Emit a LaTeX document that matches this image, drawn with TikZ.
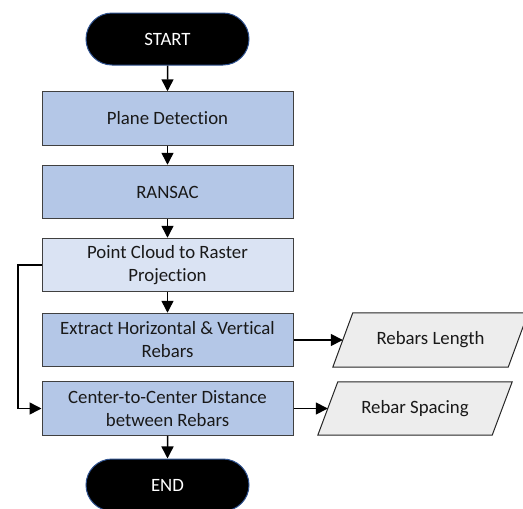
\documentclass[tikz,border=0pt]{standalone}
\usepackage{fontspec}
\setmainfont{Carlito}[Ligatures={NoCommon,NoRare,NoContextual}]
\usetikzlibrary{arrows.meta,shapes.misc,backgrounds}
\definecolor{boxblue}{HTML}{B4C7E7}
\definecolor{boxlight}{HTML}{DAE3F3}
\definecolor{iogray}{HTML}{EDEDED}
\definecolor{termborder}{HTML}{2F528F}
\definecolor{edgegray}{HTML}{404040}
\tikzset{
  every node/.style={font=\fontsize{18.8}{23}\selectfont, align=center},
  term/.style={rounded rectangle, fill=black, draw=termborder, line width=1pt,
    text=white, minimum width=163pt, minimum height=52pt, inner sep=0pt},
  procbox/.style={rectangle, fill=boxblue, draw=edgegray, line width=1pt,
    minimum width=251pt, minimum height=53.5pt, inner sep=0pt, text=black!90},
  lightbox/.style={procbox, fill=boxlight},
  iotext/.style={rectangle, minimum height=54pt, inner sep=0pt, text=black!90},
  ioshape/.style={fill=iogray, draw=black!85, line width=1pt},
  conn/.style={-{Triangle[length=12pt,width=12pt]}, line width=1.5pt, black}
}
\begin{document}
\begin{tikzpicture}[x=1pt,y=-1pt]
\useasboundingbox (0,0) rectangle (523,509);
\node[term] (start) at (167.5,39) {START};
\node[procbox] (plane) at (167.5,118.5) {Plane Detection};
\node[procbox] (ransac) at (167.5,192) {RANSAC};
\node[lightbox] (cloud) at (167.5,265) {Point Cloud to Raster\\Projection};
\node[procbox] (extract) at (167.5,340) {Extract Horizontal \& Vertical\\Rebars};
\node[procbox] (center) at (167.5,408.5) {Center-to-Center Distance\\between Rebars};
\node[term] (end) at (167.5,485) {END};
\node[iotext, minimum width=175pt] (length) at (430.5,340) {Rebars Length};
\node[iotext, minimum width=174pt, minimum height=53pt] (spacing) at (415,408.5) {Rebar Spacing};
\begin{scope}[on background layer]
\draw[ioshape] ([xshift=10pt]length.north west) -- ([xshift=10pt]length.north east)
  -- ([xshift=-10pt]length.south east) -- ([xshift=-10pt]length.south west) -- cycle;
\draw[ioshape] ([xshift=10pt]spacing.north west) -- ([xshift=10pt]spacing.north east)
  -- ([xshift=-10pt]spacing.south east) -- ([xshift=-10pt]spacing.south west) -- cycle;
\end{scope}
\coordinate (loopa) at (18,265);
\coordinate (loopb) at (18,408.5);
\draw[conn] (start) -- (plane);
\draw[conn] (plane) -- (ransac);
\draw[conn] (ransac) -- (cloud);
\draw[conn] (cloud) -- (extract);
\draw[conn] (center) -- (end);
\draw[conn] (extract.east) -- (length.west);
\draw[conn] (center.east) -- (spacing.west);
\draw[conn] (cloud.west) -- (loopa) -- (loopb) -- (center.west);
\end{tikzpicture}
\end{document}
